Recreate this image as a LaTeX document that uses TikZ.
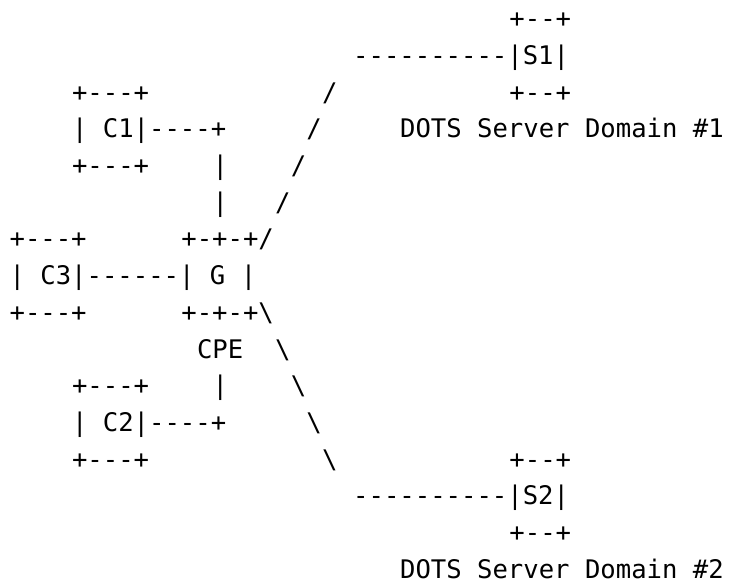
\documentclass[tikz,border=0pt]{standalone}
\usepackage{fontspec}
\setmonofont{DejaVu Sans Mono}
\usepackage{tikz}
\usetikzlibrary{positioning}
\tikzset{
  ascii/.style={font=\fontsize{25.6}{31}\selectfont\ttfamily, anchor=base west, inner sep=0pt, outer sep=0pt}
}

\begin{document}
\begin{tikzpicture}[x=15.62pt, y=-36.7pt]
\path[use as bounding box] (0pt,0pt) rectangle (729pt,-585pt);
\begin{scope}[shift={(9.6pt,-27.8pt)}]
% server S1
\node[ascii] (s1top) at (32,0) {+--+};
\node[ascii] (s1) at (22,1) {----------|S1|};
\node[ascii] (s1bot) at (32,2) {+--+};
\node[ascii] (dom1) at (25,3) {DOTS Server Domain \#1};
% uplink
\node[ascii] (up1) at (20,2) {/};
\node[ascii] (up2) at (19,3) {/};
\node[ascii] (up3) at (18,4) {/};
\node[ascii] (up4) at (17,5) {/};
% client C1
\node[ascii] (c1top) at (4,2) {+---+};
\node[ascii] (c1) at (4,3) {| C1|----+};
\node[ascii] (c1bot) at (4,4) {+---+};
\node[ascii] (c1v1) at (13,4) {|};
\node[ascii] (c1v2) at (13,5) {|};
% client C3 and gateway G
\node[ascii] (c3top) at (0,6) {+---+};
\node[ascii] (gtop) at (11,6) {+-+-+/};
\node[ascii] (c3) at (0,7) {| C3|------| G |};
\node[ascii] (c3bot) at (0,8) {+---+};
\node[ascii] (gbot) at (11,8) {+-+-+\textbackslash};
\node[ascii] (cpe) at (12,9) {CPE};
% downlink
\node[ascii] (dn1) at (17,9) {\textbackslash};
\node[ascii] (dn2) at (18,10) {\textbackslash};
\node[ascii] (dn3) at (19,11) {\textbackslash};
\node[ascii] (dn4) at (20,12) {\textbackslash};
% client C2
\node[ascii] (c2top) at (4,10) {+---+};
\node[ascii] (c2v) at (13,10) {|};
\node[ascii] (c2) at (4,11) {| C2|----+};
\node[ascii] (c2bot) at (4,12) {+---+};
% server S2
\node[ascii] (s2top) at (32,12) {+--+};
\node[ascii] (s2) at (22,13) {----------|S2|};
\node[ascii] (s2bot) at (32,14) {+--+};
\node[ascii] (dom2) at (25,15) {DOTS Server Domain \#2};
\end{scope}
\end{tikzpicture}
\end{document}
